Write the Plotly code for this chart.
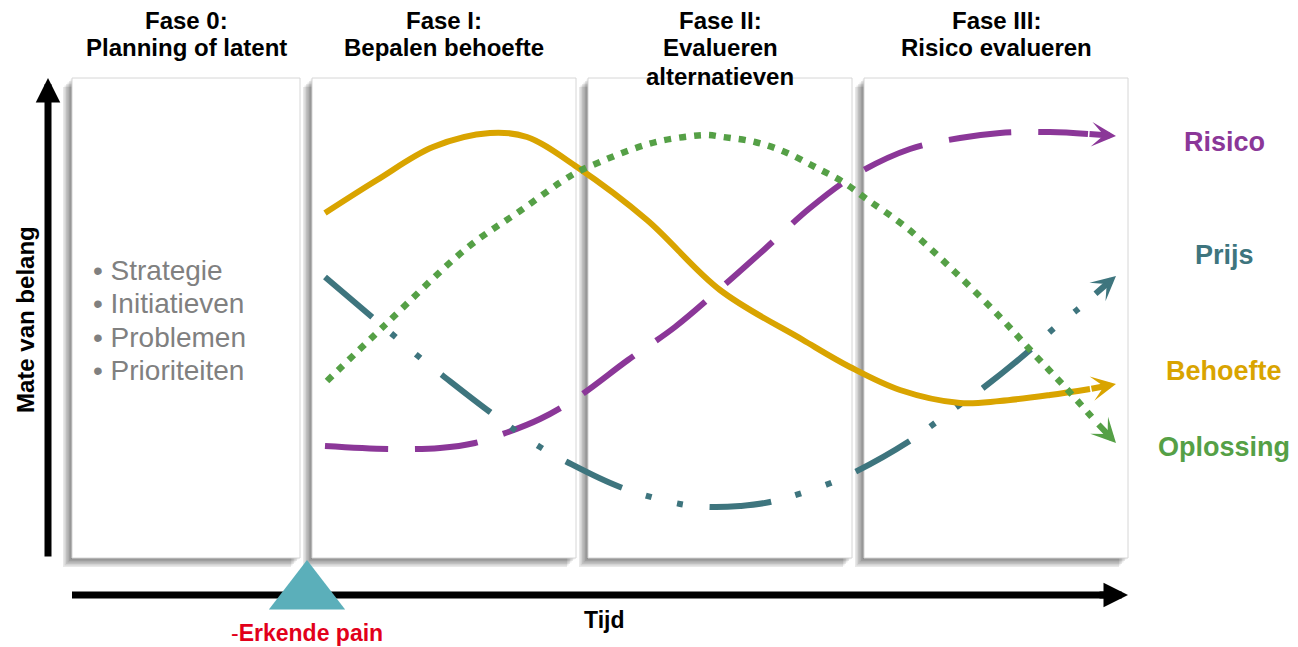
import plotly.graph_objects as go

W, H = 1298, 647
PAGE_MARGIN = 8  # default body margin of the written html page

# ---- phase panels (time spans) ----
phase_start = [72, 312, 588, 864]
phase_end = [300, 576, 852, 1128]
panel_top = 78
panel_bottom = 558
phase_titles = [
    ["Fase 0:", "Planning of latent"],
    ["Fase I:", "Bepalen behoefte"],
    ["Fase II:", "Evalueren", "alternatieven"],
    ["Fase III:", "Risico evalueren"],
]
title_line_y = [20, 47, 76]

# ---- bullet list in phase 0 ----
bullets = ["Strategie", "Initiatieven", "Problemen", "Prioriteiten"]
bullet_y = [270, 303, 337, 370]

# ---- curves (time, importance) ; last point = arrow tip ----
behoefte_x = [325, 377, 433, 490, 527, 577, 647, 720, 803, 850, 900, 960, 1000, 1050, 1090, 1116]
behoefte_y = [213, 180, 147, 133, 137, 167, 220, 290, 340, 367, 390, 403, 401, 395, 389, 384]

risico_x = [325, 390, 440, 475, 500, 540, 578, 628, 675, 722, 767, 810, 855, 910, 960, 1000, 1050, 1088, 1116]
risico_y = [446, 449, 448, 443, 435, 419, 397, 360, 327, 287, 247, 208, 175, 149, 138, 133, 132, 134, 136]

prijs_x = [325, 372, 418, 442, 490, 540, 567, 620, 680, 710, 740, 770, 828, 855, 908, 958, 983, 1030, 1052, 1077, 1094, 1116]
prijs_y = [277, 317, 356, 375, 412, 447, 462, 487, 504, 507, 506, 502, 484, 472, 442, 406, 388, 350, 330, 310, 295, 276]

oplossing_x = [327, 385, 467, 520, 572, 600, 630, 660, 692, 708, 723, 755, 785, 815, 843, 868, 907, 955, 1000, 1033, 1065, 1097, 1116]
oplossing_y = [381, 325, 248, 211, 175, 162, 150, 141, 136, 135, 137, 142, 152, 167, 182, 200, 228, 272, 317, 353, 387, 423, 443]

series_names = ["Risico", "Prijs", "Behoefte", "Oplossing"]
label_x = [1224, 1224, 1224, 1224]
label_y = [142, 255, 371, 447]

# ---- axes arrows and marker ----
y_axis_x = 48
time_axis_y = 595
axis_start = [72, 558]
axis_tip = [1128, 78]
pain_x = [307]
pain_y = [593]

PURPLE = "#8B3798"
TEAL = "#3E757E"
GOLD = "#D9A400"
GREEN = "#55A046"
FONT = "Liberation Sans, Arial, sans-serif"

fig = go.Figure()

# panels with soft shadow
for x0, x1 in zip(phase_start, phase_end):
    for d in [1.5, 3, 4.5, 6, 7.5, 9]:
        fig.add_shape(type="rect", x0=x0 - d, x1=x1 - d, y0=panel_top + d, y1=panel_bottom + d,
                      xref="x", yref="y", line=dict(width=0), fillcolor="rgba(0,0,0,0.09)", layer="below")
    fig.add_shape(type="rect", x0=x0, x1=x1, y0=panel_top, y1=panel_bottom, xref="x", yref="y",
                  line=dict(color="#D6D6D6", width=1), fillcolor="white", layer="below")

# time axis line
fig.add_trace(go.Scatter(x=[axis_start[0], axis_tip[0] - 24], y=[time_axis_y, time_axis_y], mode="lines",
                         line=dict(color="black", width=7), hoverinfo="skip", showlegend=False))
# pain triangle
fig.add_trace(go.Scatter(x=pain_x, y=pain_y, mode="markers",
                         marker=dict(symbol="triangle-up", size=66, color="#5BAFBA", line=dict(width=0)),
                         hoverinfo="skip", showlegend=False))

curves = [
    (risico_x, risico_y, PURPLE, "63px,27px", 6),
    (prijs_x, prijs_y, TEAL, "62px,25px,6px,26px,6px,27px", 6),
    (behoefte_x, behoefte_y, GOLD, "solid", 6),
    (oplossing_x, oplossing_y, GREEN, "7px,8px", 6.5),
]
for (xs, ys, col, dash, w), name in zip(curves, series_names):
    fig.add_trace(go.Scatter(x=xs[:-1], y=ys[:-1], mode="lines", name=name,
                             line=dict(color=col, width=w, dash=dash, shape="spline"),
                             hoverinfo="skip", showlegend=False))
    fig.add_annotation(x=xs[-1], y=ys[-1], ax=xs[-2], ay=ys[-2], xref="x", yref="y", axref="x", ayref="y",
                       showarrow=True, arrowhead=3, arrowsize=0.68, arrowwidth=6, arrowcolor=col, text="")

for name, col, lx, ly in zip(series_names, [PURPLE, TEAL, GOLD, GREEN], label_x, label_y):
    fig.add_annotation(x=lx, y=ly, xref="x", yref="y", text="<b>%s</b>" % name, showarrow=False,
                       font=dict(family=FONT, size=27, color=col), xanchor="center", yanchor="middle")

# vertical axis arrow
fig.add_annotation(x=y_axis_x, y=axis_tip[1], ax=y_axis_x, ay=axis_start[1], xref="x", yref="y",
                   axref="x", ayref="y", showarrow=True, arrowhead=2, arrowsize=0.7, arrowwidth=7,
                   arrowcolor="black", text="")
# time axis arrowhead
fig.add_annotation(x=axis_tip[0], y=time_axis_y, ax=axis_tip[0] - 30, ay=time_axis_y, xref="x", yref="y",
                   axref="x", ayref="y", showarrow=True, arrowhead=2, arrowsize=0.7, arrowwidth=7,
                   arrowcolor="black", text="")

# phase titles
for x0, x1, lines in zip(phase_start, phase_end, phase_titles):
    for ln, ty in zip(lines, title_line_y):
        fig.add_annotation(x=(x0 + x1) / 2, y=ty, xref="x", yref="y", text="<b>%s</b>" % ln, showarrow=False,
                           font=dict(family=FONT, size=24, color="black"), xanchor="center", yanchor="middle")

# bullets
for b, by in zip(bullets, bullet_y):
    fig.add_annotation(x=91, y=by, xref="x", yref="y", text="\u2022 " + b, showarrow=False,
                       font=dict(family=FONT, size=28, color="#808080"), xanchor="left", yanchor="middle")

fig.add_annotation(x=25, y=320, xref="x", yref="y", text="<b>Mate van belang</b>", textangle=-90,
                   showarrow=False, font=dict(family=FONT, size=24, color="black"))
fig.add_annotation(x=604, y=620, xref="x", yref="y", text="<b>Tijd</b>", showarrow=False,
                   font=dict(family=FONT, size=23, color="black"))
fig.add_annotation(x=pain_x[0], y=633, xref="x", yref="y", text="-<b>Erkende pain</b>", showarrow=False,
                   font=dict(family=FONT, size=23, color="#E2001A"))

fig.update_layout(
    width=W - PAGE_MARGIN, height=H - PAGE_MARGIN, margin=dict(l=0, r=0, t=0, b=0),
    paper_bgcolor="white", plot_bgcolor="white",
    xaxis=dict(range=[PAGE_MARGIN, W], visible=False, fixedrange=True),
    yaxis=dict(range=[H, PAGE_MARGIN], visible=False, fixedrange=True),
    showlegend=False,
)

fig.write_html("out.html")
